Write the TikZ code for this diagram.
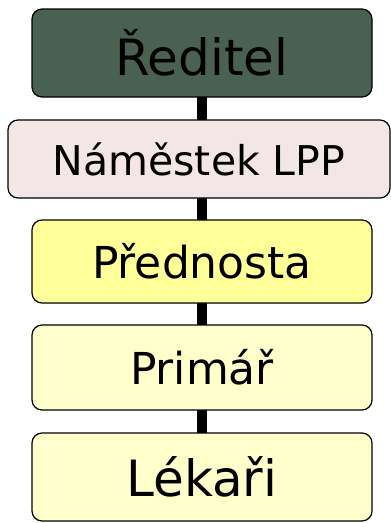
\documentclass[tikz,border=0pt]{standalone}
\usepackage{fontspec}
\setmainfont{DejaVu Sans}
\definecolor{boxgreen}{HTML}{4A6151}
\definecolor{boxpink}{HTML}{F2E6E6}
\definecolor{boxyellow}{HTML}{FFFF99}
\definecolor{boxcream}{HTML}{FFFFCC}
\begin{document}
\begin{tikzpicture}[x=1pt,y=1pt,
  orgbox/.style={draw=black, line width=1.2pt, rounded corners=10pt, inner sep=0pt, align=center,
    font=\fontsize{44}{48}\selectfont},
  link/.style={line width=10pt, black}]
\useasboundingbox (0,0) rectangle (391,-523);
\draw[link] (202,-53) -- (202,-477);
\node[orgbox, fill=boxgreen, minimum width=340pt, minimum height=88pt, font=\fontsize{50}{54}\selectfont] (b1) at (202,-53) {Ředitel};
\node[orgbox, fill=boxpink, minimum width=382pt, minimum height=78pt, font=\fontsize{41}{45}\selectfont] (b2) at (199,-159) {Náměstek LPP};
\node[orgbox, fill=boxyellow, minimum width=340pt, minimum height=83pt] (b3) at (202,-261.5) {Přednosta};
\node[orgbox, fill=boxcream, minimum width=340pt, minimum height=85pt] (b4) at (202,-367.5) {Primář};
\node[orgbox, fill=boxcream, minimum width=340pt, minimum height=88pt, font=\fontsize{50}{54}\selectfont] (b5) at (202,-477) {Lékaři};
\end{tikzpicture}
\end{document}
